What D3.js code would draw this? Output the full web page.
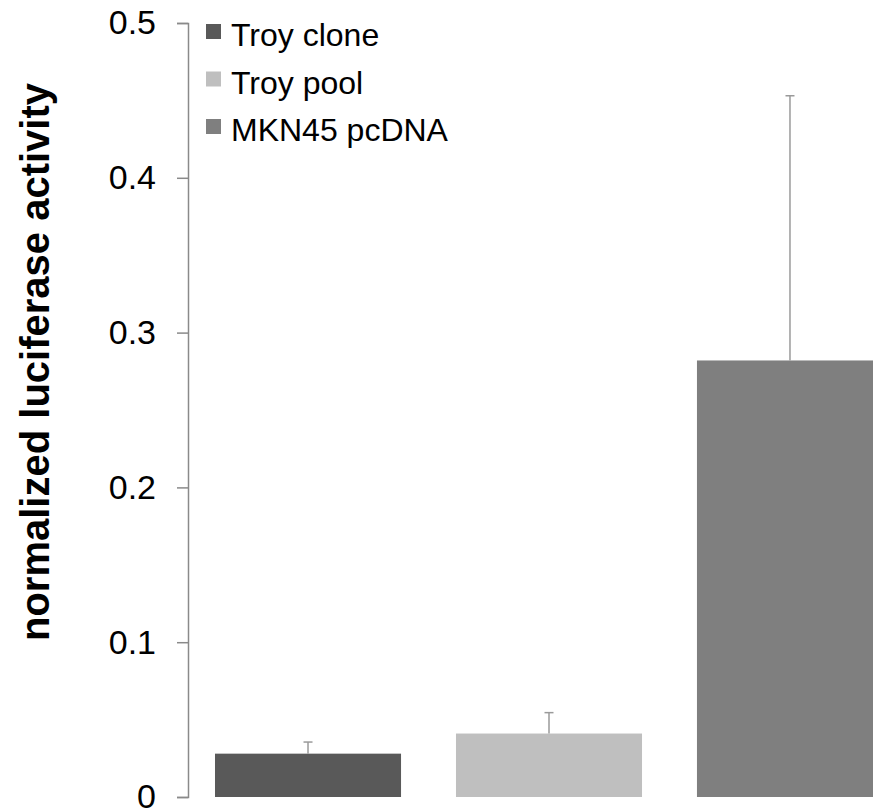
<!DOCTYPE html>
<html>
<head>
<meta charset="utf-8">
<script src="https://cdn.jsdelivr.net/npm/d3@7"></script>
<style>
  body { margin: 0; background: #fff; }
  svg { display: block; font-family: "Liberation Sans", Arial, sans-serif; }
</style>
</head>
<body>
<svg id="chart" width="873" height="810"></svg>
<script>
var groups = ["Troy clone", "Troy pool", "MKN45 pcDNA"];
var means = [0.028, 0.041, 0.282];
var errors = [0.0075, 0.0135, 0.171];
var barColors = ["#595959", "#bfbfbf", "#7f7f7f"];
var yTicks = [0, 0.1, 0.2, 0.3, 0.4, 0.5];

var svg = d3.select("#chart");

var x = d3.scaleBand()
    .domain(groups)
    .range([188, 910])
    .paddingInner(0.228)
    .paddingOuter(0.112);

var y = d3.scaleLinear()
    .domain([0, 0.5])
    .range([797, 23]);

// bars
svg.selectAll(".bar")
    .data(groups)
    .enter()
    .append("rect")
    .attr("class", "bar")
    .attr("x", function(d) { return x(d); })
    .attr("y", function(d, i) { return y(means[i]); })
    .attr("width", x.bandwidth())
    .attr("height", function(d, i) { return y(0) - y(means[i]); })
    .attr("fill", function(d, i) { return barColors[i]; });

// error bars (upper only)
var err = svg.append("g").attr("stroke", "#9a9a9a").attr("stroke-width", 1.5);
groups.forEach(function(g, i) {
    var cx = x(g) + x.bandwidth() / 2;
    err.append("line")
        .attr("x1", cx).attr("x2", cx)
        .attr("y1", y(means[i])).attr("y2", y(means[i] + errors[i]));
    err.append("line")
        .attr("x1", cx - 4.5).attr("x2", cx + 4.5)
        .attr("y1", y(means[i] + errors[i])).attr("y2", y(means[i] + errors[i]));
});

// y axis
var yAxis = d3.axisLeft(y)
    .tickValues(yTicks)
    .tickSize(11)
    .tickPadding(21)
    .tickFormat(d3.format("~g"));

var axisG = svg.append("g")
    .attr("transform", "translate(188,0)")
    .call(yAxis);
axisG.select(".domain").attr("stroke", "#8a8a8a").attr("stroke-width", 1.5);
axisG.selectAll(".tick line").attr("stroke", "#8a8a8a").attr("stroke-width", 1.5);
axisG.selectAll(".tick text")
    .attr("fill", "#000")
    .style("font-size", "34px")
    .style("font-family", "Liberation Sans, Arial, sans-serif");

// y label
svg.append("text")
    .attr("transform", "translate(49,362) rotate(-90)")
    .attr("text-anchor", "middle")
    .style("font-size", "40px")
    .style("font-weight", "bold")
    .text("normalized luciferase activity");

// legend
var legend = svg.append("g").attr("transform", "translate(206,0)");
var items = legend.selectAll(".legend-item")
    .data(groups)
    .enter()
    .append("g")
    .attr("class", "legend-item")
    .attr("transform", function(d, i) { return "translate(0," + (35 + i * 47.5) + ")"; });

items.append("rect")
    .attr("x", 0)
    .attr("y", -11)
    .attr("width", 15)
    .attr("height", 15)
    .attr("fill", function(d, i) { return barColors[i]; });

items.append("text")
    .attr("x", 25)
    .attr("y", 0)
    .attr("dy", "0.35em")
    .style("font-size", "32px")
    .text(function(d) { return d; });
</script>
</body>
</html>
